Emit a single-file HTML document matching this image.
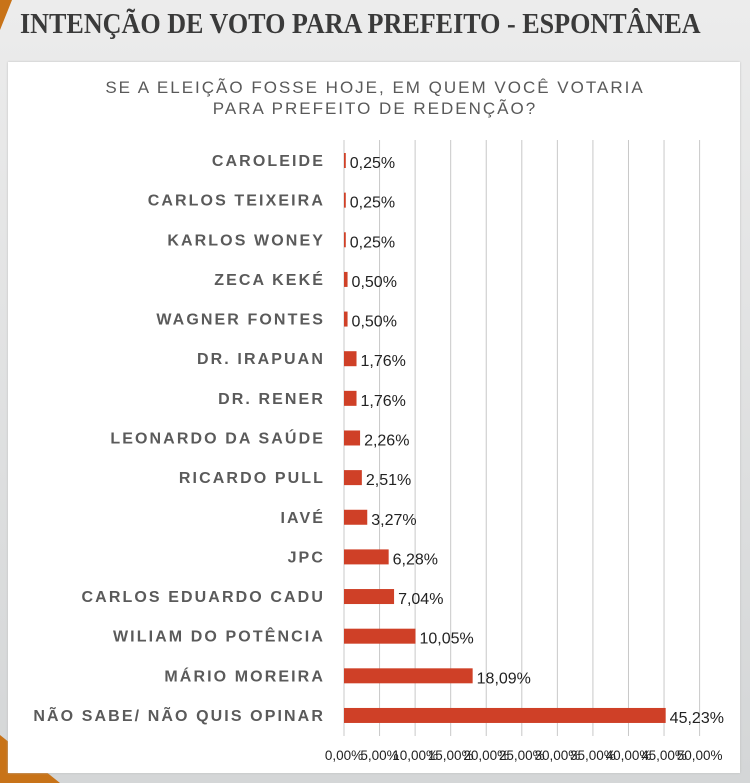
<!DOCTYPE html>
<html><head><meta charset="utf-8"><style>
body{margin:0;width:750px;height:783px;overflow:hidden;background:linear-gradient(180deg,#ececec,#d4d6d7);font-family:"Liberation Sans",sans-serif;position:relative}
</style></head><body>
<svg width="750" height="783" style="position:absolute;left:0;top:0">
<polygon points="0,735 0,783 60,783" fill="#c87318"/>
<polygon points="0,0 12,0 0,30" fill="#c87318"/>
</svg>
<div style="position:absolute;left:20px;top:8px;white-space:nowrap;font-family:'Liberation Serif',serif;font-weight:bold;font-size:29px;color:#3a3a3a;transform:scaleX(0.9);transform-origin:left">INTENÇÃO DE VOTO PARA PREFEITO - ESPONTÂNEA</div>
<div style="position:absolute;left:8px;top:62px;width:732px;height:711px;background:#fff;box-shadow:0 0 2px #bbb"></div>
<div style="position:absolute;left:0;width:750px;top:77px;text-align:center;font-size:17px;letter-spacing:2px;line-height:21px;color:#595959;white-space:nowrap">SE A ELEIÇÃO FOSSE HOJE, EM QUEM VOCÊ VOTARIA<br>PARA PREFEITO DE REDENÇÃO?</div>
<svg id="c" width="750" height="783" style="position:absolute;left:0;top:0"></svg>
<script>
const categories=["CAROLEIDE","CARLOS TEIXEIRA","KARLOS WONEY","ZECA KEKÉ","WAGNER FONTES","DR. IRAPUAN","DR. RENER","LEONARDO DA SAÚDE","RICARDO PULL","IAVÉ","JPC","CARLOS EDUARDO CADU","WILIAM DO POTÊNCIA","MÁRIO MOREIRA","NÃO SABE/ NÃO QUIS OPINAR"];
const values=[0.25,0.25,0.25,0.50,0.50,1.76,1.76,2.26,2.51,3.27,6.28,7.04,10.05,18.09,45.23];
const valueLabels=["0,25%","0,25%","0,25%","0,50%","0,50%","1,76%","1,76%","2,26%","2,51%","3,27%","6,28%","7,04%","10,05%","18,09%","45,23%"];
const ticks=[0,5,10,15,20,25,30,35,40,45,50];
const tickLabels=["0,00%","5,00%","10,00%","15,00%","20,00%","25,00%","30,00%","35,00%","40,00%","45,00%","50,00%"];
const svg=document.getElementById('c');const NS="http://www.w3.org/2000/svg";
const x=v=>344+v*7.112;const y=i=>160+i*39.64;
function mk(t,a){const e=document.createElementNS(NS,t);for(const k in a)e.setAttribute(k,a[k]);svg.appendChild(e);return e;}
ticks.forEach((t,i)=>{
 const l=mk('line',{x1:x(t),x2:x(t),y1:140,y2:736,stroke:'#c8c8c8','stroke-width':1});
 
 
 const tx=mk('text',{x:x(t),y:760,'text-anchor':'middle','font-size':13.5,fill:'#222'});
 tx.textContent=tickLabels[i];
 
 
});
categories.forEach((c,i)=>{
 const lab=mk('text',{x:325,y:y(i)+6,'text-anchor':'end','font-size':16,'font-weight':'bold','letter-spacing':2.1,fill:'#5a5a5a'});
 lab.textContent=c;
 
 
 const b=mk('rect',{x:x(0),y:y(i)-7,width:Math.max(1,x(values[i])-x(0)),height:15,fill:'#cf4027'});
 
 
 const v=mk('text',{x:x(values[i])+4,y:y(i)+8,'font-size':16,fill:'#222'});
 v.textContent=valueLabels[i];
 
 
});
</script>
</body></html>
